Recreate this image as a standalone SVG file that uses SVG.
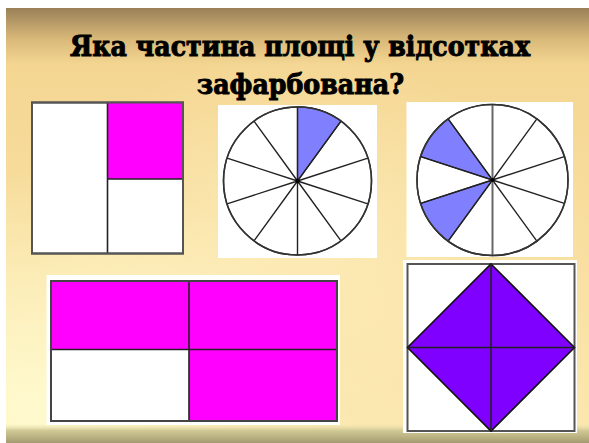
<svg xmlns="http://www.w3.org/2000/svg" width="589" height="443" viewBox="0 0 589 443">
<defs>
<linearGradient id="bg" x1="0" y1="0" x2="0" y2="1">
<stop offset="0" stop-color="#9a8058"/>
<stop offset="0.07" stop-color="#d8b878"/>
<stop offset="0.13" stop-color="#f4d692"/>
<stop offset="0.6" stop-color="#f9e0a2"/>
<stop offset="1" stop-color="#fbe8b0"/>
</linearGradient>
<radialGradient id="glow" cx="0.05" cy="0.92" r="0.55">
<stop offset="0" stop-color="#fffbd0" stop-opacity="0.95"/>
<stop offset="1" stop-color="#fffbd0" stop-opacity="0"/>
</radialGradient>
<radialGradient id="glow2" cx="0.5" cy="0.55" r="0.45">
<stop offset="0" stop-color="#fff2c4" stop-opacity="0.6"/>
<stop offset="1" stop-color="#fff2c4" stop-opacity="0"/>
</radialGradient>
<linearGradient id="bot" x1="0" y1="0" x2="0" y2="1">
<stop offset="0" stop-color="#e8e0b0" stop-opacity="0"/>
<stop offset="0.35" stop-color="#d0c894"/>
<stop offset="1" stop-color="#a49c70"/>
</linearGradient>
<style>
.title{font-family:"DejaVu Serif","Liberation Serif",serif;font-weight:bold;font-size:28px;fill:#000;stroke:#000;stroke-width:1px;text-anchor:middle}
.line{stroke:#222;stroke-width:1.6;fill:none}
.frame{fill:#fff;stroke:#555;stroke-width:2}
.spoke{stroke:#222;stroke-width:1.4;fill:none}
.mag{fill:#ff00ff}
.blue{fill:#8080ff;stroke:#222;stroke-width:1.2}
.violet{fill:#8000ff;stroke:#111;stroke-width:1.6}
.white{fill:#fff}
</style>
</defs>
<rect x="0" y="0" width="589" height="443" fill="#fff"/>
<g id="background">
<rect x="6" y="8" width="583" height="435" fill="url(#bg)"/>
<rect x="6" y="8" width="583" height="435" fill="url(#glow2)"/>
<rect x="6" y="8" width="583" height="435" fill="url(#glow)"/>
<rect x="6" y="424" width="583" height="19" fill="url(#bot)"/>
</g>
<g id="title">
<text class="title" x="300" y="56" textLength="460" lengthAdjust="spacingAndGlyphs">Яка частина площі у відсотках</text>
<text class="title" x="300.5" y="94" textLength="207" lengthAdjust="spacingAndGlyphs">зафарбована?</text>
</g>
<g id="square">
<rect class="frame" x="32" y="102.5" width="151" height="151"/>
<rect class="mag" x="107.5" y="102.5" width="75.5" height="76.5"/>
<line class="line" x1="107.5" y1="102.5" x2="107.5" y2="253.5" stroke="#444"/>
<line class="line" x1="107.5" y1="179" x2="183" y2="179" stroke="#444"/>
<rect x="32" y="102.5" width="151" height="151" fill="none" stroke="#555" stroke-width="2"/>
</g>
<g id="circle1">
<rect class="white" x="218" y="105" width="159" height="153"/>
<circle cx="297.5" cy="181" r="74" fill="#fff" stroke="#333" stroke-width="1.5"/>
<path class="blue" d="M297.5,181 L297.5,107 A74,74 0 0 1 341,121.13 Z"/>
<path class="spoke" d="M297.5,181 L297.5,107 M297.5,181 L341,121.13 M297.5,181 L367.88,158.13 M297.5,181 L367.88,203.87 M297.5,181 L341,240.87 M297.5,181 L297.5,255 M297.5,181 L254,240.87 M297.5,181 L227.12,203.87 M297.5,181 L227.12,158.13 M297.5,181 L254,121.13"/>
<circle cx="297.5" cy="181" r="74" fill="none" stroke="#333" stroke-width="1.5"/>
<circle cx="297.5" cy="181" r="2" fill="#000"/>
</g>
<g id="circle2">
<rect class="white" x="406.5" y="102" width="166.5" height="155"/>
<circle cx="492.5" cy="180" r="75.5" fill="#fff" stroke="#333" stroke-width="1.5"/>
<path class="blue" d="M492.5,180 L420.69,156.67 A75.5,75.5 0 0 1 448.12,118.92 Z"/>
<path class="blue" d="M492.5,180 L448.12,241.08 A75.5,75.5 0 0 1 420.69,203.33 Z"/>
<path class="spoke" d="M492.5,180 L536.88,118.92 M492.5,180 L564.31,156.67 M492.5,180 L564.31,203.33 M492.5,180 L536.88,241.08 M492.5,180 L448.12,241.08 M492.5,180 L420.69,203.33 M492.5,180 L420.69,156.67 M492.5,180 L448.12,118.92"/>
<line x1="492.5" y1="104.5" x2="492.5" y2="255.5" stroke="#666" stroke-width="2"/>
<circle cx="492.5" cy="180" r="75.5" fill="none" stroke="#333" stroke-width="1.5"/>
<circle cx="492.5" cy="180" r="2" fill="#000"/>
</g>
<g id="rectangle">
<rect class="white" x="46.5" y="275" width="293.5" height="150"/>
<rect class="mag" x="51" y="281" width="286" height="68.5"/>
<rect class="mag" x="189" y="349.5" width="148" height="71.5"/>
<line class="line" x1="189" y1="281" x2="189" y2="421"/>
<line class="line" x1="51" y1="349.5" x2="337" y2="349.5"/>
<rect x="51" y="281" width="286" height="140" fill="none" stroke="#444" stroke-width="2"/>
</g>
<g id="diamond">
<rect class="white" x="403" y="260" width="174" height="173"/>
<rect x="407.5" y="264" width="167" height="167" fill="#fff" stroke="#555" stroke-width="2"/>
<polygon class="violet" points="491,264 574.5,347.5 491,431 407.5,347.5"/>
<line class="line" x1="491" y1="264" x2="491" y2="431" stroke="#111"/>
<line class="line" x1="407.5" y1="347.5" x2="574.5" y2="347.5" stroke="#111"/>
</g>
</svg>
